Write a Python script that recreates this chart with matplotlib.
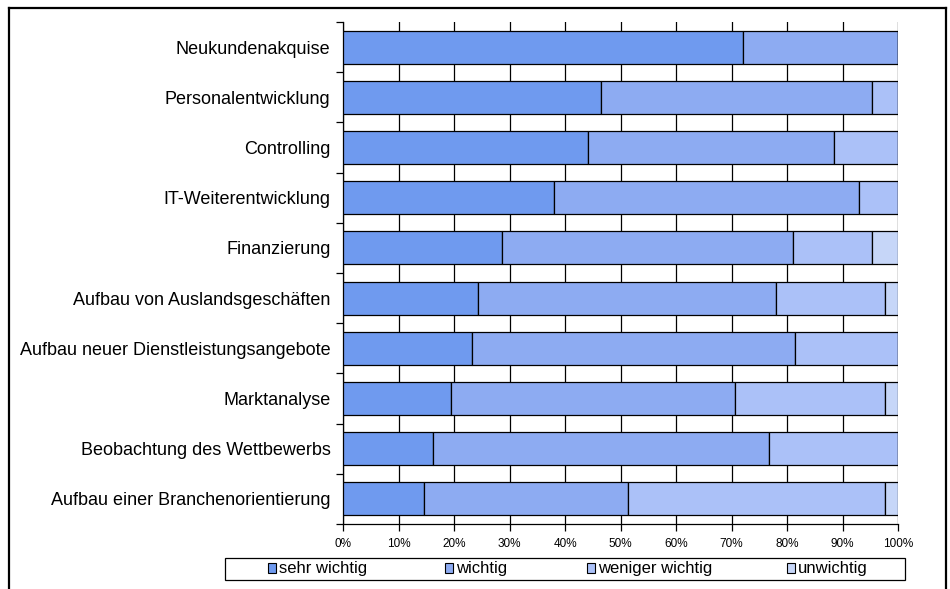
import matplotlib
matplotlib.use("Agg")
import matplotlib.pyplot as plt
import numpy as np
from matplotlib.lines import Line2D
from matplotlib.ticker import MultipleLocator, FuncFormatter

plt.rcParams['font.family'] = ['Liberation Sans', 'DejaVu Sans']

# Daten (Anteile in %)
kategorien = [
    "Neukundenakquise",
    "Personalentwicklung",
    "Controlling",
    "IT-Weiterentwicklung",
    "Finanzierung",
    "Aufbau von Auslandsgeschäften",
    "Aufbau neuer Dienstleistungsangebote",
    "Marktanalyse",
    "Beobachtung des Wettbewerbs",
    "Aufbau einer Branchenorientierung",
]
sehr_wichtig = [72.1, 46.5, 44.2, 38.1, 28.6, 24.4, 23.3, 19.5, 16.3, 14.6]
wichtig = [27.9, 48.9, 44.2, 54.8, 52.4, 53.7, 58.1, 51.2, 60.5, 36.7]
weniger_wichtig = [0.0, 4.6, 11.6, 7.1, 14.4, 19.5, 18.6, 26.9, 23.2, 46.3]
unwichtig = [0.0, 0.0, 0.0, 0.0, 4.6, 2.4, 0.0, 2.4, 0.0, 2.4]

serien = ["sehr wichtig", "wichtig", "weniger wichtig", "unwichtig"]
farben = ["#6F9AEF", "#8DABF2", "#ABC1F8", "#C6D6F8"]

fig = plt.figure(figsize=(9.5, 5.89), dpi=100)
ax = fig.add_axes([343 / 950, 1 - 524 / 589, 555 / 950, 502 / 589])

y = np.arange(len(kategorien))
links = np.zeros(len(kategorien))
for name, werte, farbe in zip(serien, [sehr_wichtig, wichtig, weniger_wichtig, unwichtig], farben):
    werte = np.array(werte)
    ax.barh(y, werte, left=links, height=0.66, color=farbe,
            edgecolor="black", linewidth=0.9, label=name, zorder=3)
    links += werte

ax.set_xlim(0, 100)
ax.set_ylim(len(kategorien) - 0.5, -0.5)
ax.xaxis.set_major_locator(MultipleLocator(10))
ax.xaxis.set_major_formatter(FuncFormatter(lambda v, p: f"{v:.0f}%"))
ax.grid(axis="x", color="black", linewidth=0.9, zorder=0)
ax.set_axisbelow(True)

ax.set_yticks(y)
ax.set_yticklabels(kategorien, fontsize=13)
ax.set_yticks(np.arange(-0.5, len(kategorien), 1), minor=True)
ax.tick_params(axis="y", which="major", length=0, pad=9)
ax.tick_params(axis="y", which="minor", length=5, width=0.9, direction="out")
ax.tick_params(axis="x", length=5, width=0.9, direction="out", labelsize=8.5, pad=5)

for s in ["top", "right"]:
    ax.spines[s].set_visible(False)
for s in ["left", "bottom"]:
    ax.spines[s].set_linewidth(0.9)

# Legende: Rahmen + einzelne Einträge
lx0, lx1, ly0, ly1 = 225, 905, 558, 580
fig.add_artist(plt.Rectangle((lx0 / 950, 1 - ly1 / 589), (lx1 - lx0) / 950, (ly1 - ly0) / 589,
                             transform=fig.transFigure, facecolor="white",
                             edgecolor="black", linewidth=0.9))
eintrag_x = [268, 445, 587, 787]
for name, farbe, ex in zip(serien, farben, eintrag_x):
    h = plt.Rectangle((0, 0), 1, 1, facecolor=farbe, edgecolor="black", linewidth=0.8)
    fig.legend([h], [name], loc="center left",
               bbox_to_anchor=(ex / 950, 1 - (ly0 + ly1) / 2 / 589),
               fontsize=12, frameon=False, handlelength=0.5, handleheight=0.55,
               handletextpad=0.15, borderpad=0, borderaxespad=0)

# Rahmen
rx0, rx1, ry = 9 / 950, 946 / 950, 1 - 8 / 589
fig.add_artist(Line2D([rx0, rx1], [ry, ry], color="black", linewidth=1.6, transform=fig.transFigure))
fig.add_artist(Line2D([rx0, rx0], [0, ry], color="black", linewidth=1.6, transform=fig.transFigure))
fig.add_artist(Line2D([rx1, rx1], [0, ry], color="black", linewidth=1.6, transform=fig.transFigure))

fig.savefig("out.png", dpi=100)
